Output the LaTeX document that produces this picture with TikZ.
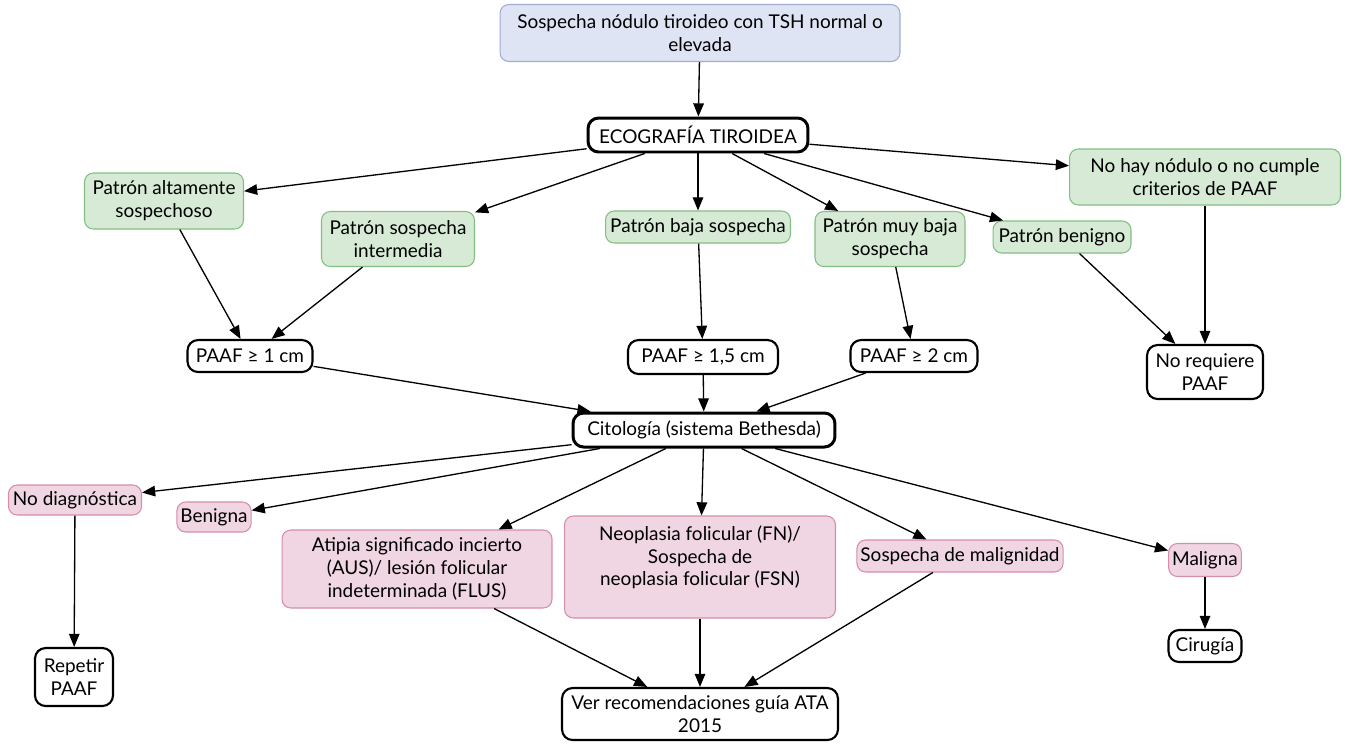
\documentclass[tikz,border=0pt]{standalone}
\usepackage{fontspec}
\setmainfont{Lato}
\usetikzlibrary{positioning, arrows.meta}
\usepackage{xcolor}

\definecolor{bluefill}{RGB}{222,228,244}
\definecolor{blueline}{RGB}{160,172,210}
\definecolor{greenfill}{RGB}{214,234,214}
\definecolor{greenline}{RGB}{130,190,130}
\definecolor{pinkfill}{RGB}{240,214,226}
\definecolor{pinkline}{RGB}{215,140,170}

\tikzset{
  box/.style={rounded corners=5pt, align=center, inner sep=2pt,
    font=\fontsize{10.8}{13}\selectfont},
  bluebox/.style={box, draw=blueline, fill=bluefill, line width=0.6pt},
  greenbox/.style={box, draw=greenline, fill=greenfill, line width=0.6pt},
  pinkbox/.style={box, draw=pinkline, fill=pinkfill, line width=0.6pt},
  blackbox/.style={box, draw=black, fill=white, line width=1.2pt, rounded corners=6pt},
  mainbox/.style={blackbox, line width=1.7pt},
  arr/.style={-{Triangle[length=7.5pt,width=6pt]}, line width=0.75pt}
}

\begin{document}
\begin{tikzpicture}[x=0.02cm, y=-0.02cm]
  \useasboundingbox (0,0) rectangle (1345,745);

  % ---- top ----
  \node[bluebox, minimum width=8cm, minimum height=1.14cm] (sosp) at (700,33)
    {Sospecha nódulo tiroideo con TSH normal o\\elevada};
  \node[mainbox, minimum width=4.4cm, minimum height=0.68cm] (eco) at (698,135)
    {ECOGRAFÍA TIROIDEA};

  % ---- ultrasound patterns ----
  \node[greenbox, minimum width=3.18cm, minimum height=1.12cm] (alto) at (164,201)
    {Patrón altamente\\sospechoso};
  \node[greenbox, minimum width=3.06cm, minimum height=1.1cm] (inter) at (398,239)
    {Patrón sospecha\\intermedia};
  \node[greenbox, minimum width=3.7cm, minimum height=0.64cm] (baja) at (698,227)
    {Patrón baja sospecha};
  \node[greenbox, minimum width=3cm, minimum height=1.1cm] (muybaja) at (890,239)
    {Patrón muy baja\\sospecha};
  \node[greenbox, minimum width=2.76cm, minimum height=0.64cm] (benigno) at (1062,237)
    {Patrón benigno};
  \node[greenbox, minimum width=5.42cm, minimum height=1.12cm] (nohay) at (1205,177)
    {No hay nódulo o no cumple\\criterios de PAAF};

  % ---- FNA thresholds ----
  \node[blackbox, minimum width=2.5cm, minimum height=0.64cm] (paaf1) at (250,356)
    {PAAF ≥ 1 cm};
  \node[blackbox, minimum width=3cm, minimum height=0.68cm] (paaf15) at (703,357)
    {PAAF ≥ 1,5 cm};
  \node[blackbox, minimum width=2.54cm, minimum height=0.64cm] (paaf2) at (914,356)
    {PAAF ≥ 2 cm};
  \node[blackbox, minimum width=2.32cm, minimum height=1.08cm] (noreq) at (1205,372)
    {No requiere\\PAAF};

  \node[mainbox, minimum width=5.24cm, minimum height=0.68cm] (cito) at (704,430)
    {Citología (sistema Bethesda)};

  % ---- Bethesda categories ----
  \node[pinkbox, minimum width=2.66cm, minimum height=0.6cm] (nodiag) at (75,500)
    {No diagnóstica};
  \node[pinkbox, minimum width=1.48cm, minimum height=0.6cm] (benigna) at (214,517)
    {Benigna};
  \node[pinkbox, minimum width=5.4cm, minimum height=1.56cm] (atipia) at (417,569)
    {Atipia significado incierto\\(AUS)/ lesión folicular\\indeterminada (FLUS)};
  \node[pinkbox, minimum width=5.42cm, minimum height=2.04cm] (neo) at (700,567)
    {Neoplasia folicular (FN)/\\Sospecha de\\neoplasia folicular (FSN)\\[-4pt]\strut};
  \node[pinkbox, minimum width=4.08cm, minimum height=0.64cm] (malig) at (960,556)
    {Sospecha de malignidad};
  \node[pinkbox, minimum width=1.4cm, minimum height=0.66cm] (maligna) at (1205,560)
    {Maligna};

  % ---- outcomes ----
  \node[blackbox, minimum width=1.56cm, minimum height=1.16cm] (repetir) at (74,677)
    {Repetir\\PAAF};
  \node[blackbox, minimum width=1.46cm, minimum height=0.64cm] (cirugia) at (1205,646)
    {Cirugía};
  \node[blackbox, minimum width=5.52cm, minimum height=1.04cm] (ver) at (700,714)
    {Ver recomendaciones guía ATA\\2015};

  % ---- connectors ----
  \draw[arr] (sosp) -- (eco);
  \foreach \n in {alto, inter, baja, muybaja, benigno, nohay}
    \draw[arr] (eco) -- (\n);
  \draw[arr] (alto) -- (paaf1);
  \draw[arr] (inter) -- (paaf1);
  \draw[arr] (baja) -- (paaf15);
  \draw[arr] (muybaja) -- (paaf2);
  \draw[arr] (benigno) -- (noreq);
  \draw[arr] (nohay) -- (noreq);
  \foreach \n in {paaf1, paaf15, paaf2}
    \draw[arr] (\n) -- (cito);
  \foreach \n in {nodiag, benigna, atipia, neo, malig, maligna}
    \draw[arr] (cito) -- (\n);
  \draw[arr] (nodiag) -- (repetir);
  \draw[arr] (maligna) -- (cirugia);
  \foreach \n in {atipia, neo, malig}
    \draw[arr] (\n) -- (ver);

\end{tikzpicture}
\end{document}
